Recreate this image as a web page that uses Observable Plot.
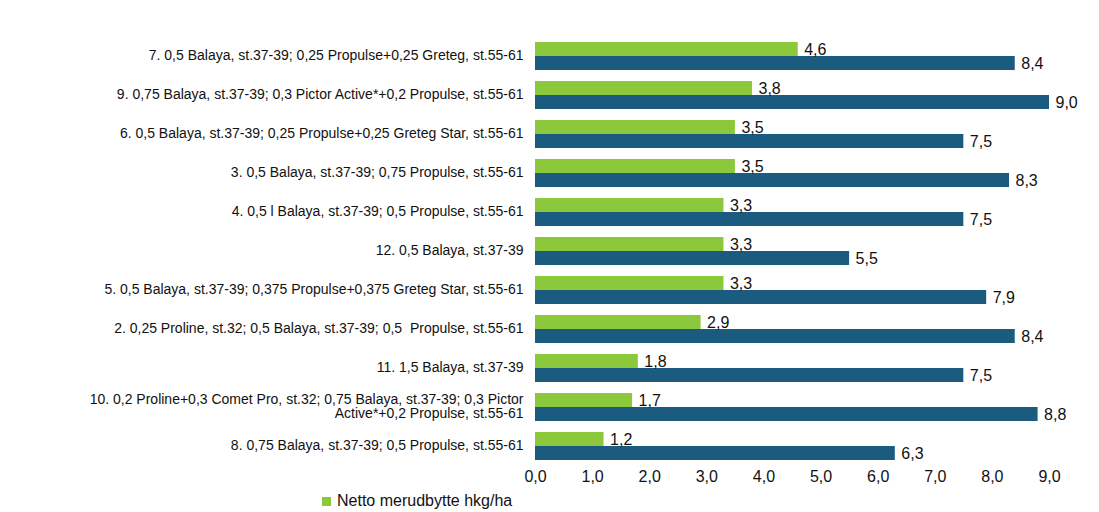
<!DOCTYPE html>
<html>
<head>
<meta charset="utf-8">
<script src="https://cdn.jsdelivr.net/npm/d3@7"></script>
<script src="https://cdn.jsdelivr.net/npm/@observablehq/plot@0.6"></script>
<style>
  html, body { margin: 0; padding: 0; background: #ffffff; }
  body { width: 1099px; height: 512px; overflow: hidden; font-family: "Liberation Sans", Arial, sans-serif; }
  #legend { font-size: 16px; color: #111; padding-left: 322px; margin-top: -6px; display: flex; align-items: center; gap: 6px; }
  #legend .sw { width: 9px; height: 9px; background: #8cc83c; display: inline-block; }
</style>
</head>
<body>
<div id="chart"></div>
<div id="legend"><span class="sw"></span><span>Netto merudbytte hkg/ha</span></div>
<script>
const categories = [
  "7. 0,5 Balaya, st.37-39; 0,25 Propulse+0,25 Greteg, st.55-61",
  "9. 0,75 Balaya, st.37-39; 0,3 Pictor Active*+0,2 Propulse, st.55-61",
  "6. 0,5 Balaya, st.37-39; 0,25 Propulse+0,25 Greteg Star, st.55-61",
  "3. 0,5 Balaya, st.37-39; 0,75 Propulse, st.55-61",
  "4. 0,5 l Balaya, st.37-39; 0,5 Propulse, st.55-61",
  "12. 0,5 Balaya, st.37-39",
  "5. 0,5 Balaya, st.37-39; 0,375 Propulse+0,375 Greteg Star, st.55-61",
  "2. 0,25 Proline, st.32; 0,5 Balaya, st.37-39; 0,5  Propulse, st.55-61",
  "11. 1,5 Balaya, st.37-39",
  "10. 0,2 Proline+0,3 Comet Pro, st.32; 0,75 Balaya, st.37-39; 0,3 Pictor\nActive*+0,2 Propulse, st.55-61",
  "8. 0,75 Balaya, st.37-39; 0,5 Propulse, st.55-61"
];
const nettoValues = [4.6, 3.8, 3.5, 3.5, 3.3, 3.3, 3.3, 2.9, 1.8, 1.7, 1.2];
const totalValues = [8.4, 9.0, 7.5, 8.3, 7.5, 5.5, 7.9, 8.4, 7.5, 8.8, 6.3];
const seriesNames = ["Netto merudbytte hkg/ha", "Merudbytte hkg/ha"];
const xTicks = [0, 1, 2, 3, 4, 5, 6, 7, 8, 9];

const rows = [];
categories.forEach((c, i) => {
  rows.push({cat: c, series: seriesNames[0], value: nettoValues[i]});
  rows.push({cat: c, series: seriesNames[1], value: totalValues[i]});
});

const fmt = v => v.toFixed(1).replace(".", ",");

const chart = Plot.plot({
  width: 1099,
  height: 498,
  marginTop: 38,
  marginBottom: 34,
  marginLeft: 535,
  marginRight: 50,
  style: {fontFamily: "'Liberation Sans', Arial, sans-serif", fontSize: "14px", color: "#111", background: "#ffffff"},
  x: {domain: [0, 9], ticks: xTicks, tickFormat: fmt, tickSize: 0, tickPadding: 10, label: null},
  y: {domain: seriesNames, axis: null, padding: 0},
  fy: {domain: categories, label: null, axis: "left", tickSize: 0, tickPadding: 12, padding: 0.25},
  color: {domain: seriesNames, range: ["#8cc83c", "#1c5b80"]},
  marks: [
    Plot.barX(rows, {x: "value", y: "series", fy: "cat", fill: "series"}),
    Plot.text(rows, {x: "value", y: "series", fy: "cat", text: d => fmt(d.value), dx: 6, textAnchor: "start", fontSize: 16, fill: "#111"})
  ]
});
chart.querySelectorAll("g[aria-label='x-axis tick label']").forEach(t => t.setAttribute("font-size", "16"));
document.getElementById("chart").appendChild(chart);
</script>
</body>
</html>
